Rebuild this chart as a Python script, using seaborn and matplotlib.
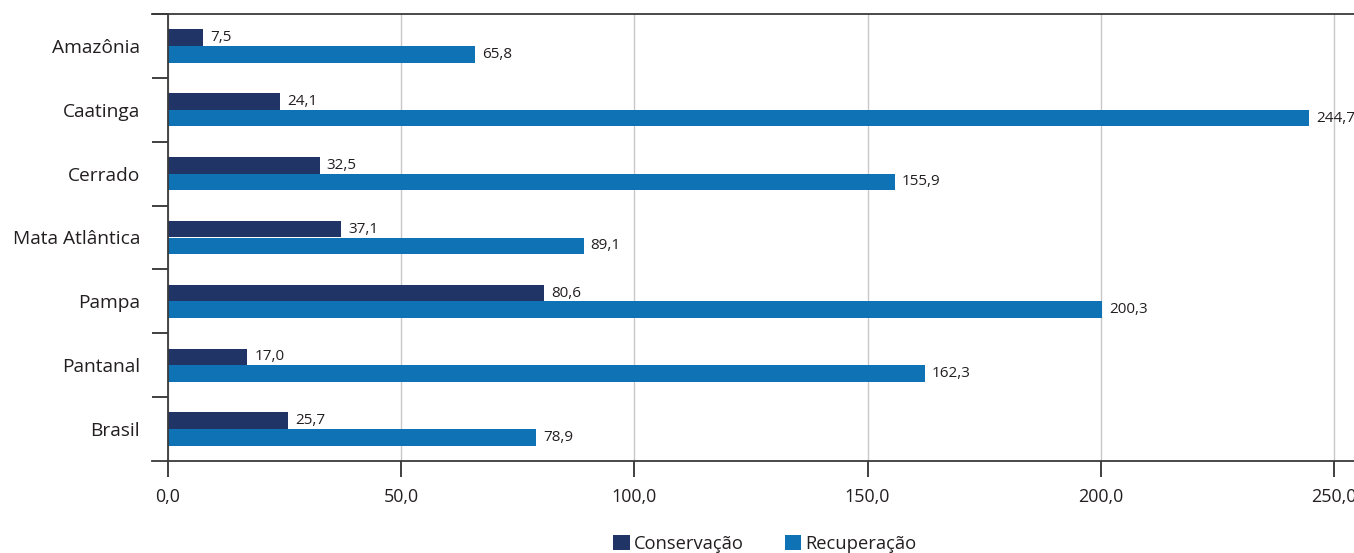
import matplotlib
matplotlib.use('Agg')
import matplotlib.pyplot as plt
import numpy as np
import pandas as pd
import seaborn as sns

biomas = ['Amazônia', 'Caatinga', 'Cerrado', 'Mata Atlântica', 'Pampa', 'Pantanal', 'Brasil']
conservacao = [7.5, 24.1, 32.5, 37.1, 80.6, 17.0, 25.7]
recuperacao = [65.8, 244.7, 155.9, 89.1, 200.3, 162.3, 78.9]
series = ['Conservação', 'Recuperação']
x_ticks = [0, 50, 100, 150, 200, 250]

df = pd.DataFrame({
    'bioma': biomas * 2,
    'serie': [series[0]] * len(biomas) + [series[1]] * len(biomas),
    'valor': conservacao + recuperacao,
})

sns.set_style('white')
plt.rcParams['font.family'] = ['Open Sans', 'DejaVu Sans']
text_color = '#231f20'

fig = plt.figure(figsize=(13.54, 5.53), dpi=100)
ax = fig.add_axes([168 / 1354, 92 / 553, 1 - 168 / 1354, (461 - 14) / 553])

sns.barplot(data=df, y='bioma', x='valor', hue='serie', orient='h',
            palette=['#203565', '#0e72b5'], width=0.52, ax=ax,
            saturation=1, linewidth=0, legend=True)

for cont in ax.containers:
    ax.bar_label(cont, labels=[f'{v:.1f}'.replace('.', ',') for v in cont.datavalues],
                 padding=5, fontsize=11, color=text_color)

ax.set_xlim(0, 254.3)
ax.set_ylim(6.5, -0.5)
ax.set_xlabel('')
ax.set_ylabel('')

ax.set_xticks(x_ticks)
ax.set_xticklabels([f'{t:.1f}'.replace('.', ',') for t in x_ticks], fontsize=12.9, color=text_color)
ax.tick_params(axis='x', direction='out', length=11.5, width=1.2, color='#231f20', pad=8, bottom=True)

ax.set_yticks(range(len(biomas)))
ax.set_yticklabels(biomas, fontsize=13.8, color=text_color)
ax.tick_params(axis='y', which='major', length=0, pad=20)
ax.set_yticks(np.arange(-0.5, len(biomas) - 0.5, 1), minor=True)
ax.tick_params(axis='y', which='minor', direction='out', length=11.5, width=1.2,
               color='#231f20', left=True)

ax.grid(True, axis='x', color='#c8c8c8', linewidth=1)
ax.set_axisbelow(True)

for side in ['top', 'bottom', 'left']:
    ax.spines[side].set_visible(True)
    ax.spines[side].set_color('#3a3a3a')
    ax.spines[side].set_linewidth(1.3)
ax.spines['right'].set_visible(False)
ax.spines['bottom'].set_bounds(-3.45, 254.3)
ax.spines['top'].set_bounds(-3.45, 254.3)

handles, labels = ax.get_legend_handles_labels()
ax.get_legend().remove()
fig.legend(handles, labels, loc='lower center', bbox_to_anchor=(0.565, -0.03), ncol=2,
           frameon=False, fontsize=13.2, handlelength=0.9, handleheight=0.9,
           handletextpad=0.25, columnspacing=2.2, labelcolor=text_color)

fig.savefig('out.png', dpi=100)
